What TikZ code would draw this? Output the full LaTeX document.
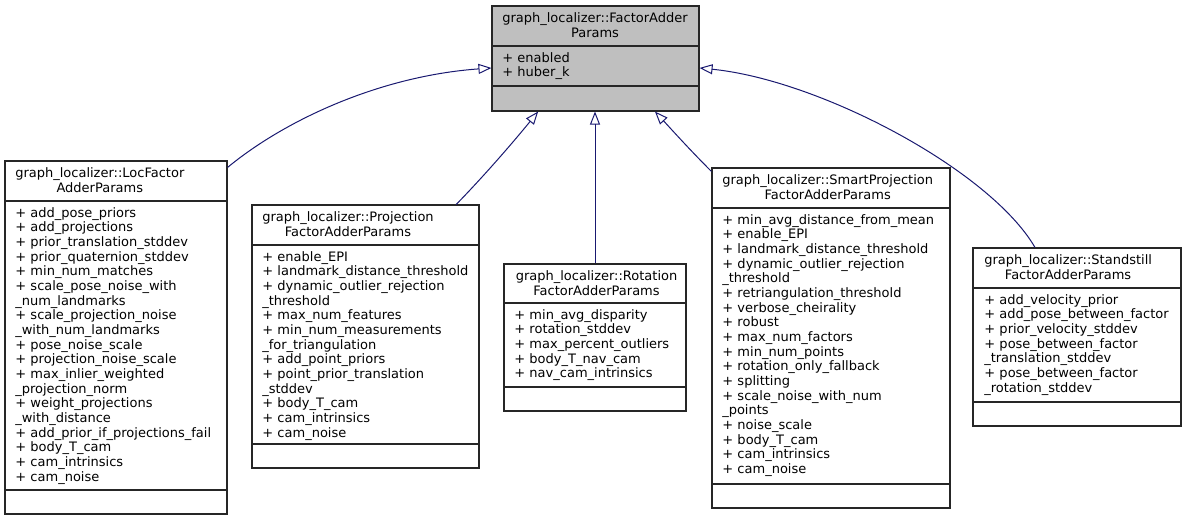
\documentclass[tikz,border=0pt]{standalone}
\usepackage{fontspec}
\setmainfont{DejaVu Sans}
\usepackage{xcolor}
\usetikzlibrary{arrows.meta, fit}
\definecolor{colEdge}{RGB}{25,25,112}
\definecolor{colBase}{RGB}{191,191,191}

\begin{document}
\begin{tikzpicture}[
  x=0.75pt, y=-0.75pt,
  classbox/.style={rectangle, draw=black!85, line width=0.8pt, fill=white, inner sep=0pt},
  divider/.style={draw=black!85, line width=0.8pt},
  classname/.style={anchor=base west, inner sep=0pt, font=\fontsize{9.75}{11}\selectfont},
  attrs/.style={anchor=base west, align=left, text width=250pt, inner sep=0pt,
                font=\fontsize{9.75}{11}\selectfont},
  inherit/.style={colEdge, line width=0.75pt, -{Triangle[open, length=9.75pt, width=7.5pt]}},
]
\useasboundingbox (0,0) rectangle (1186,521);

% base class
\node[classbox, fill=colBase, fit={(492,6) (699,111)}] (base) {};
\draw[divider] (492,46) -- (699,46);
\draw[divider] (492,86) -- (699,86);
\node[classname] (base-name) at (502,22.5) {\begin{tabular}[t]{@{}c@{}}graph\_localizer::FactorAdder\\Params\end{tabular}};
\node[attrs] (base-attrs) at (502,62) {+ enabled\\+ huber\_k};

% LocFactorAdderParams
\node[classbox, fit={(5,161) (227,514)}] (loc) {};
\draw[divider] (5,201) -- (227,201);
\draw[divider] (5,490) -- (227,490);
\node[classname] (loc-name) at (15,177.5) {\begin{tabular}[t]{@{}c@{}}graph\_localizer::LocFactor\\AdderParams\end{tabular}};
\node[attrs] (loc-attrs) at (15,217) {+ add\_pose\_priors\\+ add\_projections\\+ prior\_translation\_stddev\\+ prior\_quaternion\_stddev\\+ min\_num\_matches\\+ scale\_pose\_noise\_with\\\_num\_landmarks\\+ scale\_projection\_noise\\\_with\_num\_landmarks\\+ pose\_noise\_scale\\+ projection\_noise\_scale\\+ max\_inlier\_weighted\\\_projection\_norm\\+ weight\_projections\\\_with\_distance\\+ add\_prior\_if\_projections\_fail\\+ body\_T\_cam\\+ cam\_intrinsics\\+ cam\_noise};

% ProjectionFactorAdderParams
\node[classbox, fit={(252,205) (479,468)}] (proj) {};
\draw[divider] (252,245) -- (479,245);
\draw[divider] (252,444) -- (479,444);
\node[classname] (proj-name) at (262,221.5) {\begin{tabular}[t]{@{}c@{}}graph\_localizer::Projection\\FactorAdderParams\end{tabular}};
\node[attrs] (proj-attrs) at (262,261) {+ enable\_EPI\\+ landmark\_distance\_threshold\\+ dynamic\_outlier\_rejection\\\_threshold\\+ max\_num\_features\\+ min\_num\_measurements\\\_for\_triangulation\\+ add\_point\_priors\\+ point\_prior\_translation\\\_stddev\\+ body\_T\_cam\\+ cam\_intrinsics\\+ cam\_noise};

% RotationFactorAdderParams
\node[classbox, fit={(504,264) (686,411)}] (rot) {};
\draw[divider] (504,303) -- (686,303);
\draw[divider] (504,387) -- (686,387);
\node[classname] (rot-name) at (515.5,280.5) {\begin{tabular}[t]{@{}c@{}}graph\_localizer::Rotation\\FactorAdderParams\end{tabular}};
\node[attrs] (rot-attrs) at (514,319) {+ min\_avg\_disparity\\+ rotation\_stddev\\+ max\_percent\_outliers\\+ body\_T\_nav\_cam\\+ nav\_cam\_intrinsics};

% SmartProjectionFactorAdderParams
\node[classbox, fit={(712,168) (950,508)}] (smart) {};
\draw[divider] (712,208) -- (950,208);
\draw[divider] (712,484) -- (950,484);
\node[classname] (smart-name) at (722,184.5) {\begin{tabular}[t]{@{}c@{}}graph\_localizer::SmartProjection\\FactorAdderParams\end{tabular}};
\node[attrs] (smart-attrs) at (722,224) {+ min\_avg\_distance\_from\_mean\\+ enable\_EPI\\+ landmark\_distance\_threshold\\+ dynamic\_outlier\_rejection\\\_threshold\\+ retriangulation\_threshold\\+ verbose\_cheirality\\+ robust\\+ max\_num\_factors\\+ min\_num\_points\\+ rotation\_only\_fallback\\+ splitting\\+ scale\_noise\_with\_num\\\_points\\+ noise\_scale\\+ body\_T\_cam\\+ cam\_intrinsics\\+ cam\_noise};

% StandstillFactorAdderParams
\node[classbox, fit={(973,248) (1181,426)}] (stand) {};
\draw[divider] (973,288) -- (1181,288);
\draw[divider] (973,402) -- (1181,402);
\node[classname] (stand-name) at (984,264.5) {\begin{tabular}[t]{@{}c@{}}graph\_localizer::Standstill\\FactorAdderParams\end{tabular}};
\node[attrs] (stand-attrs) at (984,304) {+ add\_velocity\_prior\\+ add\_pose\_between\_factor\\+ prior\_velocity\_stddev\\+ pose\_between\_factor\\\_translation\_stddev\\+ pose\_between\_factor\\\_rotation\_stddev};

% inheritance edges
\draw[inherit] ([yshift=-5.25pt]loc.north east) .. controls (285,120) and (380,76) .. ([yshift=-7.1pt]base.west);
\draw[inherit] ([xshift=68pt]proj.north) .. controls (485,175) and (515,140) .. ([xshift=-43pt]base.south);
\draw[inherit] (rot.north) -- (rot.north |- base.south);
\draw[inherit] ([yshift=-3pt]smart.north west) .. controls (690,150) and (672,130) .. ([xshift=44.6pt]base.south);
\draw[inherit] ([xshift=-31.5pt]stand.north) .. controls (990,170) and (820,80) .. ([yshift=-7.1pt]base.east);

\end{tikzpicture}
\end{document}
